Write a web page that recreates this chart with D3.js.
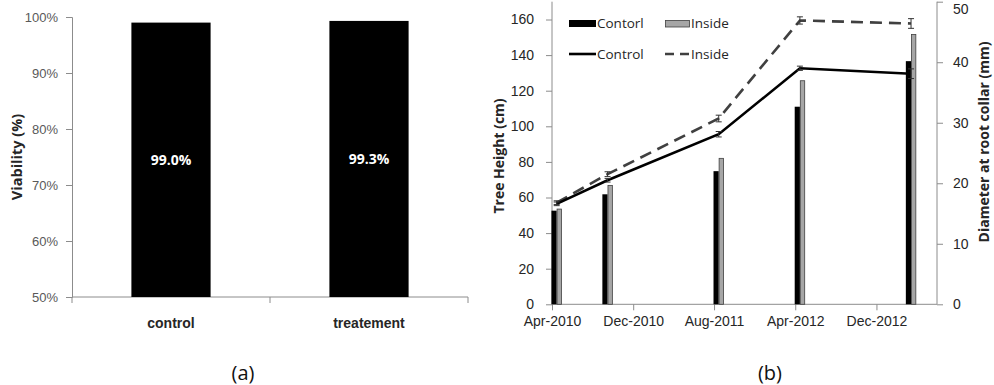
<!DOCTYPE html>
<html>
<head>
<meta charset="utf-8">
<script src="https://cdn.jsdelivr.net/npm/d3@7"></script>
<style>
  html, body { margin: 0; padding: 0; background: #fff; }
  svg { display: block; font-family: "Open Sans", "Noto Sans", sans-serif; }
</style>
</head>
<body>
<svg id="fig" width="994" height="385"></svg>
<script>
// ---- Panel (a): viability ----
const viabilityCategories = ["control", "treatement"];
const viabilityValues = [0.990, 0.993];
const viabilityTicks = [0.5, 0.6, 0.7, 0.8, 0.9, 1.0];

// ---- Panel (b): growth ----
const sampleDates = ["2010-04-15", "2010-09-15", "2011-08-15", "2012-04-15", "2013-03-15"];
const heightControl = [52.6, 61.8, 74.8, 111.0, 136.6];
const heightInside = [53.5, 66.8, 82.0, 125.6, 151.6];
const diameterControl = [16.6, 20.5, 28.1, 39.0, 38.1];
const diameterInside = [16.8, 21.5, 30.7, 46.9, 46.4];
const diameterControlErr = [0.3, 0.3, 0.45, 0.35, 0.8];
const diameterInsideErr = [0.3, 0.4, 0.55, 0.6, 0.8];
const dateTicks = ["2010-04-01", "2010-12-01", "2011-08-01", "2012-04-01", "2012-12-01"];
const heightTicks = [0, 20, 40, 60, 80, 100, 120, 140, 160];
const diameterTicks = [0, 10, 20, 30, 40, 50];

const svg = d3.select("#fig");
const axisGray = "#8c8c8c";
const parse = d3.timeParse("%Y-%m-%d");

function styleAxis(g, color, size) {
  g.select(".domain").attr("stroke", axisGray);
  g.selectAll(".tick line").attr("stroke", axisGray);
  g.selectAll(".tick text").attr("fill", color).style("font-size", size + "px");
}

// ===== Panel (a) =====
const ya = d3.scaleLinear().domain([0.5, 1.0]).range([297, 17]);
const xa = d3.scaleBand().domain(viabilityCategories).range([72, 468])
  .paddingInner(0.6).paddingOuter(0.3);

const gA = svg.append("g");
gA.append("g")
  .attr("transform", "translate(72,0)")
  .call(d3.axisLeft(ya).tickValues(viabilityTicks).tickFormat(d3.format(".0%")).tickSize(6).tickPadding(8))
  .call(g => styleAxis(g, "#595959", 13));

// category axis: line with boundary ticks, labels under band centres
gA.append("g")
  .attr("transform", "translate(0,297)")
  .call(d3.axisBottom(xa).tickSize(0).tickPadding(21))
  .call(g => styleAxis(g, "#262626", 14))
  .call(g => g.select(".domain").attr("d", "M72,0H468"))
  .call(g => g.selectAll(".tick text").style("font-weight", "bold"));
const bounds = [72].concat(viabilityCategories.map(c => xa(c) + xa.bandwidth() + xa.step() * xa.paddingInner() / 2));
bounds[bounds.length - 1] = 468;
gA.selectAll("line.bnd").data(bounds).join("line")
  .attr("x1", d => d).attr("x2", d => d).attr("y1", 297).attr("y2", 303)
  .attr("stroke", axisGray);

gA.selectAll("rect.vb").data(viabilityValues).join("rect")
  .attr("x", (d, i) => xa(viabilityCategories[i]))
  .attr("width", xa.bandwidth())
  .attr("y", d => ya(d))
  .attr("height", d => ya(0.5) - ya(d))
  .attr("fill", "#000");

gA.selectAll("text.vl").data(viabilityValues).join("text")
  .attr("x", (d, i) => xa(viabilityCategories[i]) + xa.bandwidth() / 2)
  .attr("y", d => (ya(d) + ya(0.5)) / 2 + 5)
  .attr("text-anchor", "middle")
  .attr("fill", "#fff").style("font-size", "14px").style("font-weight", "bold")
  .text(d => d3.format(".1%")(d));

gA.append("text")
  .attr("transform", "translate(22,157) rotate(-90)")
  .attr("text-anchor", "middle")
  .style("font-size", "14.5px").style("font-weight", "bold").attr("fill", "#262626")
  .text("Viability (%)");

// ===== Panel (b) =====
const xb = d3.scaleTime().domain([parse("2010-04-01"), parse("2013-06-01")]).range([552, 937]);
const yl = d3.scaleLinear().domain([0, 170]).range([304.3, 1.7]);
const yr = d3.scaleLinear().domain([0, 50]).range([304.3, 1.7]);
const dates = sampleDates.map(parse);

const gB = svg.append("g");
gB.append("g")
  .attr("transform", "translate(552,0)")
  .call(d3.axisLeft(yl).tickValues(heightTicks).tickSize(6).tickPadding(12))
  .call(g => styleAxis(g, "#262626", 14))
  .call(g => g.select(".domain").attr("d", "M0,1.7V304.3"));
gB.append("g")
  .attr("transform", "translate(937,0)")
  .call(d3.axisRight(yr).tickValues(diameterTicks).tickSize(6).tickPadding(10))
  .call(g => styleAxis(g, "#262626", 14))
  .call(g => g.select(".domain").attr("d", "M0,1.7V304.3"))
  // keep the top label inside the page
  .call(g => g.selectAll(".tick text").filter(d => d === 50).attr("dy", "0.82em"));
gB.append("g")
  .attr("transform", "translate(0,304.3)")
  .call(d3.axisBottom(xb).tickValues(dateTicks.map(parse)).tickFormat(d3.timeFormat("%b-%Y")).tickSize(6).tickPadding(6))
  .call(g => styleAxis(g, "#262626", 14))
  .call(g => g.select(".domain").attr("d", "M552,0H937"));

// height bars, clustered around each sampling date
const bw = 5.2;
gB.selectAll("rect.hc").data(heightControl).join("rect")
  .attr("x", (d, i) => xb(dates[i]) - bw).attr("width", bw)
  .attr("y", d => yl(d)).attr("height", d => yl(0) - yl(d))
  .attr("fill", "#000");
gB.selectAll("rect.hi").data(heightInside).join("rect")
  .attr("x", (d, i) => xb(dates[i]) + 0.4).attr("width", bw - 0.8)
  .attr("y", d => yl(d)).attr("height", d => yl(0) - yl(d))
  .attr("fill", "#a6a6a6").attr("stroke", "#404040").attr("stroke-width", 0.8);

// diameter lines
const lineR = d3.line().x((d, i) => xb(dates[i])).y(d => yr(d));
gB.append("path").datum(diameterInside).attr("d", lineR)
  .attr("fill", "none").attr("stroke", "#404040").attr("stroke-width", 2.6)
  .attr("stroke-dasharray", "12,7");
gB.append("path").datum(diameterControl).attr("d", lineR)
  .attr("fill", "none").attr("stroke", "#000").attr("stroke-width", 2.6);

// error bars
function errBars(vals, errs, color) {
  const g = gB.append("g").attr("stroke", color).attr("stroke-width", 1);
  vals.forEach((v, i) => {
    const x = xb(dates[i]), y0 = yr(v - errs[i]), y1 = yr(v + errs[i]);
    g.append("line").attr("x1", x).attr("x2", x).attr("y1", y0).attr("y2", y1);
    g.append("line").attr("x1", x - 3).attr("x2", x + 3).attr("y1", y0).attr("y2", y0);
    g.append("line").attr("x1", x - 3).attr("x2", x + 3).attr("y1", y1).attr("y2", y1);
  });
}
errBars(diameterInside, diameterInsideErr, "#333");
errBars(diameterControl, diameterControlErr, "#333");

// legend
const lg = gB.append("g").style("font-size", "13.5px").attr("fill", "#262626");
lg.append("rect").attr("x", 569).attr("y", 20).attr("width", 27).attr("height", 7).attr("fill", "#000");
lg.append("text").attr("x", 597).attr("y", 28).text("Contorl");
lg.append("rect").attr("x", 665.5).attr("y", 20.5).attr("width", 24).attr("height", 6.5)
  .attr("fill", "#a6a6a6").attr("stroke", "#404040").attr("stroke-width", 0.8);
lg.append("text").attr("x", 691).attr("y", 28).text("Inside");
lg.append("line").attr("x1", 569).attr("x2", 596).attr("y1", 54).attr("y2", 54)
  .attr("stroke", "#000").attr("stroke-width", 2.6);
lg.append("text").attr("x", 597).attr("y", 59).text("Control");
lg.append("line").attr("x1", 665).attr("x2", 690).attr("y1", 54).attr("y2", 54)
  .attr("stroke", "#404040").attr("stroke-width", 2.6).attr("stroke-dasharray", "9,6");
lg.append("text").attr("x", 691).attr("y", 59).text("Inside");

gB.append("text")
  .attr("transform", "translate(504,156) rotate(-90)")
  .attr("text-anchor", "middle")
  .style("font-size", "14px").style("font-weight", "bold").attr("fill", "#262626")
  .text("Tree Height (cm)");
gB.append("text")
  .attr("transform", "translate(989,142) rotate(-90)")
  .attr("text-anchor", "middle")
  .style("font-size", "14px").style("font-weight", "bold").attr("fill", "#262626")
  .text("Diameter at root collar (mm)");

// panel captions
svg.append("text").attr("x", 243).attr("y", 380).attr("text-anchor", "middle")
  .style("font-family", "'Liberation Sans Narrow', 'Open Sans', sans-serif").style("font-size", "20px").attr("fill", "#111")
  .text("(a)");
svg.append("text").attr("x", 770).attr("y", 380).attr("text-anchor", "middle")
  .style("font-family", "'Liberation Sans Narrow', 'Open Sans', sans-serif").style("font-size", "20px").attr("fill", "#111")
  .text("(b)");
</script>
</body>
</html>
